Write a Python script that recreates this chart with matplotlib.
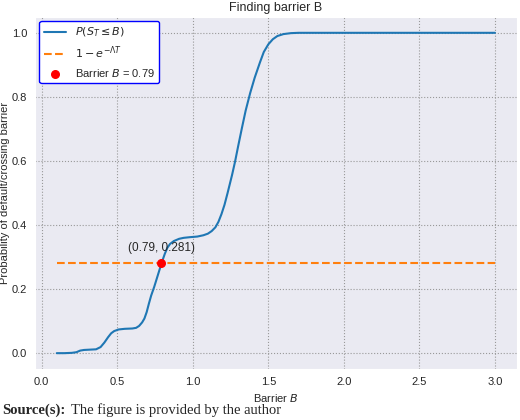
import matplotlib
matplotlib.use("Agg")
import matplotlib.pyplot as plt
import seaborn as sns

# -------------------- DATA --------------------
barrier = [0.10, 0.15, 0.20, 0.23, 0.255, 0.28, 0.32, 0.36, 0.39, 0.415, 0.44, 0.46,
           0.48, 0.51, 0.55, 0.60, 0.625, 0.645, 0.665, 0.68, 0.695, 0.71, 0.725,
           0.745, 0.77, 0.795, 0.815, 0.832, 0.85, 0.875, 0.91, 0.94, 0.98, 1.03,
           1.07, 1.10, 1.125, 1.15, 1.17, 1.19, 1.21, 1.23, 1.26, 1.28, 1.30, 1.325,
           1.35, 1.38, 1.41, 1.445, 1.47, 1.50, 1.53, 1.56, 1.60, 1.65, 1.70, 2.00,
           2.50, 3.00]
prob = [0.000, 0.000, 0.001, 0.003, 0.008, 0.010, 0.011, 0.012, 0.019, 0.033, 0.050, 0.062,
        0.069, 0.074, 0.076, 0.077, 0.079, 0.085, 0.096, 0.108, 0.128, 0.155, 0.180,
        0.207, 0.245, 0.283, 0.310, 0.329, 0.341, 0.350, 0.357, 0.360, 0.362, 0.364,
        0.368, 0.373, 0.381, 0.393, 0.410, 0.434, 0.463, 0.499, 0.556, 0.598, 0.645, 0.702,
        0.757, 0.812, 0.860, 0.908, 0.940, 0.964, 0.980, 0.990, 0.996, 0.999, 1.000, 1.000,
        1.000, 1.000]

threshold = 0.281
b_star = 0.79
line_x = [0.1, 3.0]

# -------------------- PLOT --------------------
sns.set_style("darkgrid", {"grid.linestyle": ":", "grid.color": "#999999"})
plt.rcParams["font.family"] = ["Liberation Sans", "DejaVu Sans"]

fig = plt.figure(figsize=(5.2, 4.2), dpi=100)
ax = fig.add_axes([0.067, 0.121, 0.927, 0.839])

ax.plot(barrier, prob, color="#1f77b4", lw=1.5, label=r"$P(S_T \leq B)$")
ax.plot(line_x, [threshold, threshold], "--", color="#ff7f0e", lw=1.5,
        label=r"$1 - e^{-\Lambda T}$")
ax.scatter([b_star], [threshold], color="red", s=30, zorder=5,
           label=f"Barrier $B$ = {b_star:.2f}")
ax.annotate(f"({b_star:.2f}, {threshold:.3f})", (b_star, threshold),
            xytext=(0, 9), textcoords="offset points", ha="center", fontsize=8.5)

ax.set_title("Finding barrier B", fontsize=9, pad=4)
ax.set_xlabel(r"Barrier $B$", fontsize=8)
ax.set_ylabel("Probability of default/crossing barrier", fontsize=8, labelpad=1)
ax.tick_params(labelsize=8, pad=2)
ax.grid(True, linestyle=":", color="#999999", lw=0.8)

leg = ax.legend(loc="upper left", fontsize=8, frameon=True, facecolor="white",
                edgecolor="blue", framealpha=1, borderaxespad=0.4)
leg.get_frame().set_linewidth(1.0)

# -------------------- SOURCE LINE --------------------
fig.text(0.004, 0.015, "Source(s):", family="Liberation Serif", weight="bold", fontsize=10.5)
fig.text(0.137, 0.015, "The figure is provided by the author", family="Liberation Serif",
         fontsize=10.5)

fig.savefig("out.png", dpi=100)
